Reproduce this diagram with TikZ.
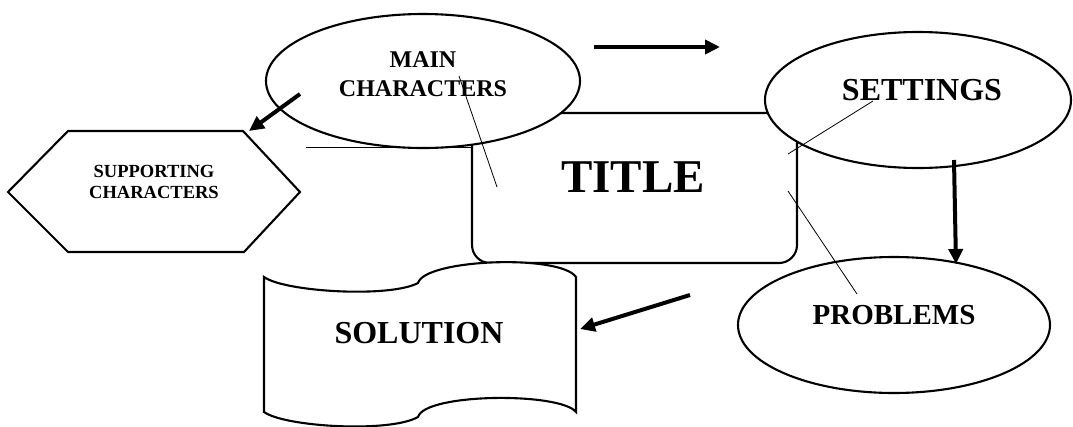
\documentclass[tikz,border=0pt]{standalone}
\usepackage{fontspec}
\setmainfont{Liberation Serif}
\usetikzlibrary{shapes.geometric,arrows.meta}
\begin{document}
\begin{tikzpicture}[x=1pt,y=-1pt,
  shapeline/.style={draw=black,line width=2.1pt,fill=white},
  oval/.style={shapeline,ellipse,inner sep=0pt},
  lbl/.style={font=\bfseries,align=center,inner sep=0pt},
  leader/.style={draw=black,line width=0.8pt},
  bigarrow/.style={draw=black,line width=4pt,-{Triangle[length=15pt,width=14pt]}}]
\useasboundingbox (0,0) rectangle (1073,426);

% title box
\node[shapeline,rounded corners=18pt,minimum width=325pt,minimum height=150pt,inner sep=0pt] (titlebox) at (634.5,188) {};

% ovals
\node[oval,minimum width=314pt,minimum height=134pt] (mainov) at (423,81) {};
\node[oval,minimum width=306pt,minimum height=136pt] (setov) at (918,100) {};
\node[oval,minimum width=312pt,minimum height=136pt] (probov) at (894,325) {};

% hexagon
\draw[shapeline] (8,192) -- (68,131) -- (243,131) -- (300,192) -- (244,252) -- (68,252) -- cycle;

% solution (tape)
\draw[shapeline] (264,277) .. controls (285,292) and (390,298) .. (418,283)
  .. controls (425,259) and (560,254) .. (576,277) -- (576,412)
  .. controls (560,392) and (425,393) .. (418,417)
  .. controls (390,433) and (285,427) .. (264,412) -- cycle;

% texts
\node[lbl,font=\bfseries\fontsize{24}{29}\selectfont] (maintxt) at (423,74) {MAIN\\CHARACTERS};
\node[lbl,font=\bfseries\fontsize{18.5}{21}\selectfont] (suptxt) at (154,182) {SUPPORTING\\CHARACTERS};
\node[lbl,font=\bfseries\fontsize{47}{50}\selectfont] (titletxt) at (633,177) {TITLE};
\node[lbl,font=\bfseries\fontsize{32}{36}\selectfont] (settxt) at (922,90) {SETTINGS};
\node[lbl,font=\bfseries\fontsize{29}{33}\selectfont] (probtxt) at (894,315) {PROBLEMS};
\node[lbl,font=\bfseries\fontsize{32}{36}\selectfont] (soltxt) at (419,333) {SOLUTION};

% thin leader lines
\coordinate (l1a) at (459,76);  \coordinate (l1b) at (497,187);
\coordinate (l2a) at (306,147); \coordinate (l2b) at (473,147);
\coordinate (l3a) at (873,101); \coordinate (l3b) at (788,154);
\coordinate (l4a) at (788,191); \coordinate (l4b) at (857,294);
\draw[leader] (l1a) -- (l1b);
\draw[leader] (l2a) -- (l2b);
\draw[leader] (l3a) -- (l3b);
\draw[leader] (l4a) -- (l4b);

% thick arrows
\coordinate (a1s) at (594,47);  \coordinate (a1e) at (720,47);
\coordinate (a2s) at (300,94);  \coordinate (a2e) at (249,131);
\coordinate (a3s) at (954,160); \coordinate (a3e) at (956,264);
\coordinate (a4s) at (690,295); \coordinate (a4e) at (580,329);
\draw[bigarrow] (a1s) -- (a1e);
\draw[bigarrow] (a2s) -- (a2e);
\draw[bigarrow] (a3s) -- (a3e);
\draw[bigarrow] (a4s) -- (a4e);
\end{tikzpicture}
\end{document}
